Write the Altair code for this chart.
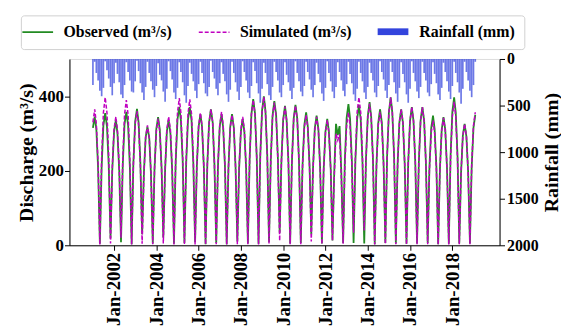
import altair as alt
import pandas as pd

# Monthly series, Jan 2001 .. Feb 2019
start_month = "2001-01-01"
n_months = 218

observed = [
    315, 345, 312, 205, 4, 212, 322, 355, 318, 215, 18, 200,
    305, 336, 300, 198, 8, 218, 325, 358, 322, 210, 3, 222,
    332, 366, 330, 220, 30, 195, 290, 318, 288, 190, 5, 205,
    312, 344, 310, 208, 21, 202, 305, 336, 300, 200, 4, 225,
    338, 371, 335, 225, 6, 224, 336, 371, 334, 222, 8, 212,
    318, 352, 318, 210, 3, 220, 330, 365, 330, 218, 6, 212,
    320, 352, 316, 212, 3, 212, 318, 352, 316, 210, 10, 204,
    306, 339, 305, 204, 5, 236, 352, 392, 354, 236, 4, 240,
    362, 400, 360, 240, 8, 232, 348, 387, 350, 234, 34, 225,
    338, 374, 336, 225, 5, 226, 340, 377, 340, 226, 6, 214,
    322, 357, 320, 215, 30, 210, 314, 348, 312, 208, 5, 204,
    305, 339, 304, 204, 13, 196, 326, 296, 320, 196, 6, 228,
    342, 379, 340, 228, 6, 226, 338, 376, 338, 226, 5, 230,
    346, 384, 345, 230, 3, 220, 328, 365, 330, 220, 6, 238,
    357, 397, 356, 238, 5, 220, 330, 365, 328, 218, 4, 222,
    334, 371, 334, 222, 5, 222, 334, 371, 334, 222, 6, 208,
    314, 348, 312, 208, 3, 206, 310, 344, 310, 206, 4, 238,
    358, 397, 356, 238, 5, 196, 294, 326, 292, 196, 5, 210,
    315, 350,
]

simulated = [
    330, 365, 326, 218, 2, 236, 356, 397, 355, 238, 5, 208,
    312, 345, 310, 206, 20, 234, 350, 390, 350, 232, 2, 216,
    326, 360, 324, 215, 4, 192, 290, 322, 290, 193, 3, 204,
    306, 340, 306, 204, 5, 207, 311, 345, 310, 206, 2, 236,
    356, 395, 355, 236, 3, 235, 352, 392, 352, 234, 2, 213,
    320, 355, 320, 212, 2, 218, 329, 365, 328, 219, 3, 215,
    322, 358, 322, 214, 2, 210, 315, 350, 315, 210, 3, 207,
    310, 345, 310, 207, 3, 234, 351, 390, 351, 234, 2, 239,
    358, 398, 358, 239, 4, 230, 345, 383, 345, 230, 12, 223,
    335, 372, 335, 223, 3, 225, 337, 375, 337, 225, 3, 210,
    315, 350, 315, 210, 10, 207, 310, 345, 310, 207, 3, 202,
    302, 336, 302, 202, 13, 185, 300, 282, 298, 185, 4, 214,
    321, 357, 321, 214, 34, 238, 357, 397, 357, 238, 40, 228,
    342, 380, 342, 228, 2, 215, 322, 358, 322, 215, 3, 238,
    357, 397, 357, 238, 3, 219, 328, 365, 328, 219, 2, 223,
    334, 371, 334, 223, 3, 223, 334, 371, 334, 223, 3, 201,
    302, 335, 302, 201, 2, 205, 308, 342, 308, 205, 2, 231,
    346, 385, 346, 231, 3, 196, 293, 326, 293, 196, 3, 214,
    321, 357,
]

rainfall = [
    280, 30, 150, 230, 340, 400, 310, 25, 120, 210, 300, 390,
    260, 40, 160, 250, 380, 420, 280, 35, 140, 230, 350, 360,
    240, 20, 130, 260, 360, 440, 300, 30, 150, 240, 330, 410,
    290, 45, 170, 230, 350, 460, 320, 25, 130, 220, 360, 430,
    310, 35, 140, 250, 390, 470, 290, 40, 160, 240, 340, 420,
    270, 30, 150, 260, 370, 400, 300, 20, 140, 210, 320, 390,
    260, 35, 160, 240, 380, 460, 330, 30, 150, 250, 350, 440,
    300, 25, 140, 230, 360, 420, 290, 35, 130, 260, 370, 470,
    320, 40, 150, 270, 390, 440, 300, 30, 140, 230, 360, 410,
    280, 35, 170, 250, 340, 430, 310, 25, 150, 240, 350, 400,
    290, 30, 140, 220, 330, 410, 280, 40, 160, 250, 370, 450,
    310, 25, 150, 240, 350, 420, 300, 35, 140, 230, 340, 400,
    270, 30, 160, 260, 380, 450, 320, 30, 150, 240, 360, 430,
    300, 40, 150, 230, 360, 410, 290, 25, 140, 220, 340, 420,
    280, 30, 140, 250, 370, 460, 310, 35, 160, 250, 380, 470,
    320, 25, 150, 240, 350, 420, 300, 30, 150, 230, 360, 400,
    270, 35, 160, 260, 380, 440, 310, 40, 140, 240, 350, 430,
    290, 30, 150, 250, 360, 480, 320, 30, 140, 230, 340, 410,
    280, 30,
]

series_labels = ["Observed (m³/s)", "Simulated (m³/s)", "Rainfall (mm)"]
series_colors = ["#228B22", "#c000c0", "rgba(0,0,0,0)"]
tick_years = list(range(2002, 2019, 2))
discharge_ticks = [0, 200, 400]
rain_ticks = [0, 500, 1000, 1500, 2000]

dates = pd.date_range(start_month, periods=n_months, freq="MS")
df_lines = pd.concat([
    pd.DataFrame({"date": dates, "value": observed, "series": series_labels[0]}),
    pd.DataFrame({"date": dates, "value": simulated, "series": series_labels[1]}),
])
df_rain = pd.DataFrame({"date": dates, "rain": rainfall, "rlabel": series_labels[2]})

FONT = "Liberation Serif"

x_enc = alt.X(
    "date:T",
    scale=alt.Scale(domain=[alt.DateTime(year=2000, month=2, date=16),
                            alt.DateTime(year=2020, month=1, date=1)]),
    axis=alt.Axis(
        values=[alt.DateTime(year=y, month=1, date=1) for y in tick_years],
        format="%b-%Y", labelAngle=270, labelAlign="right", labelBaseline="middle",
        title=None, grid=False, labelFontSize=19, labelFont=FONT,
        labelFontWeight="bold", labelColor="black", domainColor="black",
        tickColor="black", tickSize=5, labelPadding=2,
    ),
)

# Main legend (box and all three labels); the rainfall rectangle comes from the bar legend
legend = alt.Legend(
    title=None, orient="none", legendX=-49, legendY=-44, direction="horizontal",
    labelFont=FONT, labelFontWeight="bold", labelFontSize=16, labelColor="black",
    symbolType="M-8,0L8,0", symbolSize=15, labelOffset=18, columnPadding=23,
    strokeColor="#d0d0d0", padding=9, cornerRadius=3, zindex=0,
)

rain_legend = alt.Legend(
    title=None, orient="none", legendX=311, legendY=-43, labelExpr="''",
    symbolType="M-1,-0.22L1,-0.22L1,0.22L-1,0.22Z", symbolSize=961,
    symbolOpacity=1, symbolStrokeWidth=0, padding=0, zindex=2,
)

bars = alt.Chart(df_rain).mark_bar(size=1.7, opacity=0.72).encode(
    x=x_enc,
    y=alt.Y(
        "rain:Q",
        scale=alt.Scale(domain=[0, 2000], reverse=True),
        axis=alt.Axis(
            orient="right", values=rain_ticks, format="d", title="Rainfall (mm)", grid=False,
            titleAngle=270, titleBaseline="top", titleFont=FONT, titleFontWeight="bold",
            titleFontSize=20, titleColor="black", labelFont=FONT, labelFontWeight="bold",
            labelFontSize=16, labelColor="black", domainColor="black", tickColor="black",
            tickSize=5, labelPadding=2, titlePadding=3,
        ),
    ),
    fill=alt.Fill("rlabel:N", scale=alt.Scale(domain=[series_labels[2]], range=["#3344dd"]),
                  legend=rain_legend),
)

lines = alt.Chart(df_lines).mark_line(strokeCap="butt").encode(
    x=x_enc,
    y=alt.Y(
        "value:Q",
        scale=alt.Scale(domain=[0, 500]),
        axis=alt.Axis(
            orient="left", values=discharge_ticks, title="Discharge (m³/s)", grid=False,
            titleFont=FONT, titleFontWeight="bold", titleFontSize=20, titleColor="black",
            labelFont=FONT, labelFontWeight="bold", labelFontSize=17, labelColor="black",
            domainColor="black", tickColor="black", tickSize=5, labelPadding=1,
            titlePadding=2,
        ),
    ),
    color=alt.Color("series:N", scale=alt.Scale(domain=series_labels, range=series_colors),
                    legend=legend),
    strokeDash=alt.StrokeDash("series:N",
                              scale=alt.Scale(domain=series_labels,
                                              range=[[1, 0], [4, 2], [1, 0]]),
                              legend=legend),
    strokeWidth=alt.StrokeWidth("series:N",
                                scale=alt.Scale(type="ordinal", domain=series_labels,
                                                range=[1.8, 1.5, 1.5]),
                                legend=legend),
)

chart = alt.layer(bars, lines).resolve_scale(y="independent").properties(
    width=434, height=188,
    padding={"left": 8, "top": 5, "right": 0, "bottom": 0},
).configure_view(stroke="black", strokeWidth=1).configure(font=FONT)

chart.save("out.html", embed_options={"renderer": "svg", "actions": False})
